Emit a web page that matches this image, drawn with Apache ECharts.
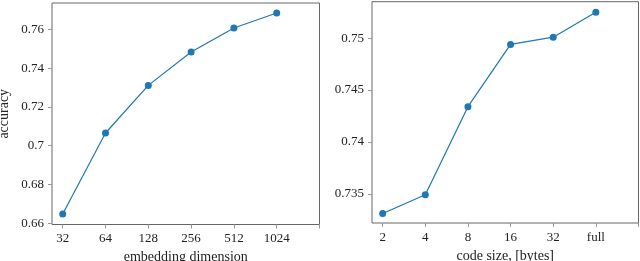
<!DOCTYPE html>
<html><head><meta charset="utf-8">
<script src="https://cdn.jsdelivr.net/npm/echarts@6/dist/echarts.min.js"></script>
<style>html,body{margin:0;padding:0;background:#fff}#c{width:640px;height:261px}</style>
</head><body><div id="c"></div>
<script>
// Left panel: embedding dimension (log2 scale)
const embedDims = [32, 64, 128, 256, 512, 1024];
const embedAcc = [0.6647, 0.7066, 0.7312, 0.7485, 0.7609, 0.7686];
const leftYTicks = [0.66, 0.68, 0.70, 0.72, 0.74, 0.76];
// Right panel: code size
const codeSizes = ['2', '4', '8', '16', '32', 'full'];
const codeAcc = [0.7331, 0.7349, 0.7434, 0.7494, 0.7501, 0.7525];
const rightYTicks = [0.735, 0.74, 0.745, 0.75];

const font = 'Liberation Serif';
const txt = '#222';
const blue = '#1f77b4';
const fmt = v => String(Number(v.toFixed(4)));

const chart = echarts.init(document.getElementById('c'));
const leftX = embedDims.map(d => Math.log2(d));
const rightX = codeSizes.map((_, i) => i + 1);

function xAxis(gi, min, max, tickVals, labelVals, fmtr, name) {
  return {
    gridIndex: gi, type: 'value', min, max,
    name, nameLocation: 'middle', nameGap: 22,
    nameTextStyle: {fontFamily: font, fontSize: 14, color: txt},
    axisLine: {show: false},
    axisTick: {show: true, length: 4, customValues: tickVals, lineStyle: {color: '#999'}},
    axisLabel: {customValues: labelVals, formatter: fmtr, margin: 8, fontFamily: font, fontSize: 13, color: txt},
    splitLine: {show: false}
  };
}
function yAxis(gi, min, max, ticks, name) {
  return {
    gridIndex: gi, type: 'value', min, max,
    name, nameLocation: 'middle', nameGap: 41,
    nameTextStyle: {fontFamily: font, fontSize: 14, color: txt},
    axisLine: {show: false},
    axisTick: {show: true, length: 4, customValues: ticks, lineStyle: {color: '#999'}},
    axisLabel: {customValues: ticks, formatter: fmt, margin: 8, fontFamily: font, fontSize: 13, color: txt},
    splitLine: {show: false}
  };
}

chart.setOption({
  animation: false,
  grid: [
    {left: 52, top: 3, width: 267.5, height: 221.5, show: true, borderColor: '#666', borderWidth: 1, containLabel: false, outerBoundsMode: 'none'},
    {left: 372, top: 1.7, width: 266.5, height: 221.3, show: true, borderColor: '#666', borderWidth: 1, containLabel: false, outerBoundsMode: 'none'}
  ],
  xAxis: [
    xAxis(0, 4.75, 11, [5,6,7,8,9,10,11], leftX, v => String(Math.round(Math.pow(2, v))), 'embedding dimension'),
    xAxis(1, 0.75, 7, [1,2,3,4,5,6,7], rightX, v => codeSizes[Math.round(v) - 1] || '', 'code size, [bytes]')
  ],
  yAxis: [
    yAxis(0, 0.65928, 0.7738, leftYTicks, 'accuracy'),
    yAxis(1, 0.73218, 0.75352, rightYTicks, '')
  ],
  series: [
    {type: 'line', xAxisIndex: 0, yAxisIndex: 0, data: leftX.map((x, i) => [x, embedAcc[i]]),
     symbol: 'circle', symbolSize: 7, lineStyle: {color: blue, width: 1.2}, itemStyle: {color: blue}},
    {type: 'line', xAxisIndex: 1, yAxisIndex: 1, data: rightX.map((x, i) => [x, codeAcc[i]]),
     symbol: 'circle', symbolSize: 7, lineStyle: {color: blue, width: 1.2}, itemStyle: {color: blue}}
  ]
});
</script></body></html>
